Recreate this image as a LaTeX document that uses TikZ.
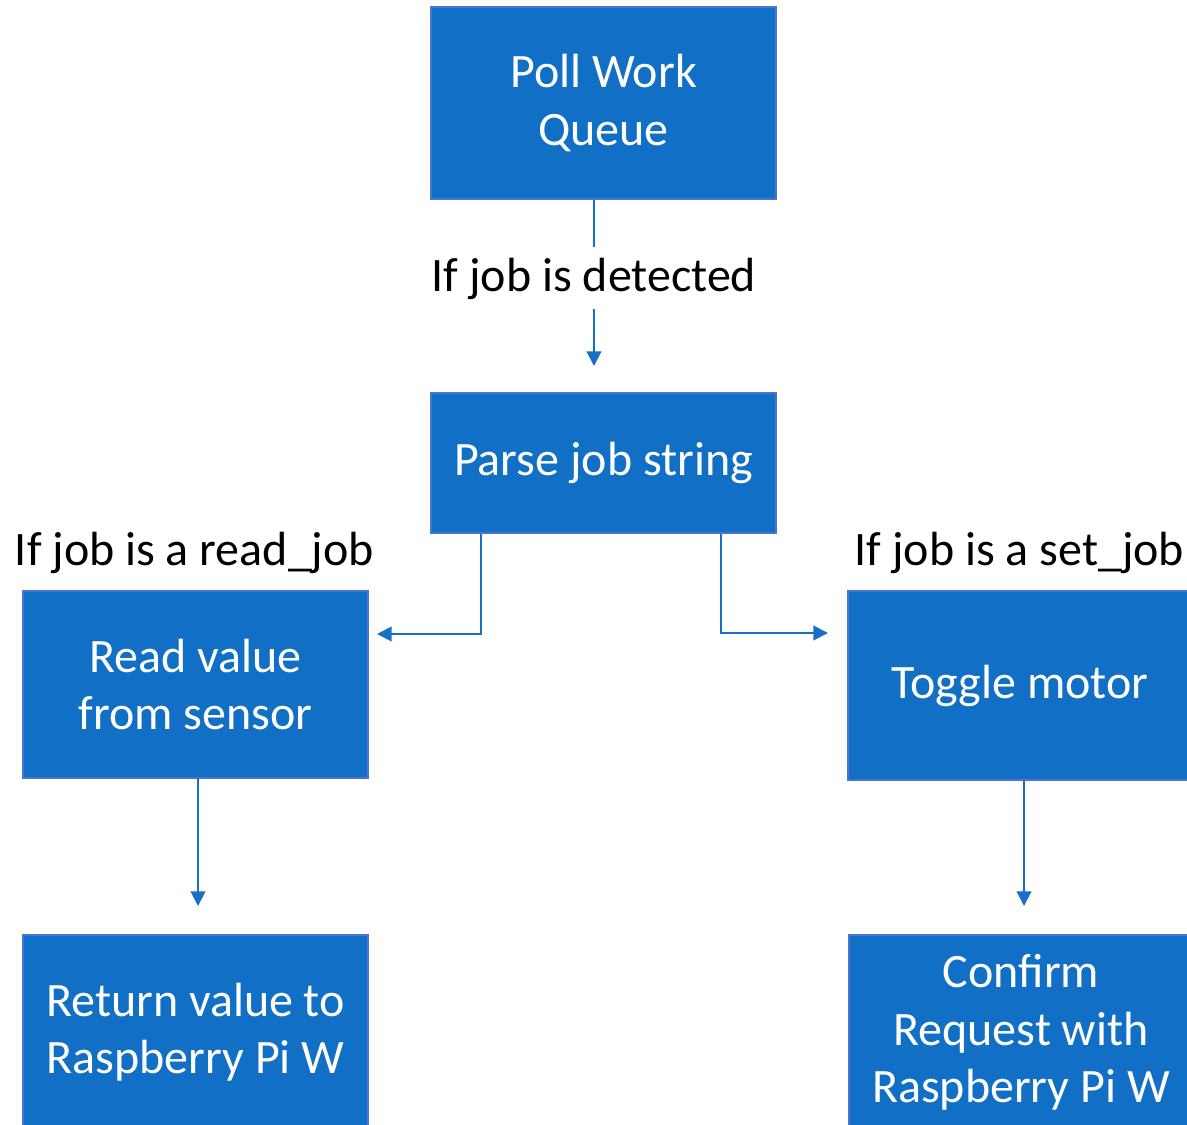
\documentclass[tikz,border=0pt]{standalone}
\usepackage{fontspec}
\setmainfont{Carlito}
\usetikzlibrary{arrows.meta}
\definecolor{boxfill}{RGB}{17,111,198}
\definecolor{boxline}{RGB}{72,118,206}
\definecolor{linkblue}{RGB}{22,112,200}
\tikzset{
  box/.style={draw=boxline, line width=1.5pt, fill=boxfill, text=white,
    minimum width=258.75pt, align=center, inner sep=0pt,
    font=\fontsize{36}{43}\selectfont},
  cond/.style={inner sep=7.5pt, font=\fontsize{36}{43}\selectfont},
  link/.style={draw=linkblue, line width=1.5pt,
    -{Triangle[length=11pt,width=11pt]}},
  plain/.style={draw=linkblue, line width=1.5pt}
}
\begin{document}
\begin{tikzpicture}[x=0.75pt,y=-0.75pt]
  \useasboundingbox (0,0) rectangle (1187,1124);
  % boxes
  \node[box, minimum height=144pt] (poll) at (603.5,103) {Poll Work\\Queue};
  \node[box, minimum height=105pt] (parse) at (603.5,463) {Parse job string};
  \node[box, minimum height=140pt] (read) at (195.5,684.5) {Read value\\from sensor};
  \node[box, minimum height=142pt] (toggle) at (1020,685.5) {Toggle motor};
  \node[box, minimum height=146pt] (return) at (195.5,1032.5) {Return value to\\Raspberry Pi W};
  \node[box, minimum height=146pt] (confirm) at (1021,1032.5) {Confirm\\Request with\\Raspberry Pi W};
  % conditions
  \node[cond, anchor=base] (detect) at (594,291) {If job is detected};
  \node[cond, anchor=base] (readcond) at (194.5,565) {If job is a read\_job};
  \node[cond, anchor=base] (setcond) at (1019.5,565) {If job is a set\_job};
  % arrow ends
  \coordinate (parsein) at (594,366);
  \coordinate (readin) at (377,634);
  \coordinate (setin) at (828,633);
  \coordinate (returnin) at (198,906);
  \coordinate (confirmin) at (1024,906);
  % links
  \draw[plain] (detect.north |- poll.south) -- (detect.north);
  \draw[link] (detect.south) -- (parsein);
  \draw[link] ([xshift=-91.9pt]parse.south) |- (readin);
  \draw[link] ([xshift=88.1pt]parse.south) |- (setin);
  \draw[link] (read.south -| returnin) -- (returnin);
  \draw[link] (toggle.south -| confirmin) -- (confirmin);
\end{tikzpicture}
\end{document}
